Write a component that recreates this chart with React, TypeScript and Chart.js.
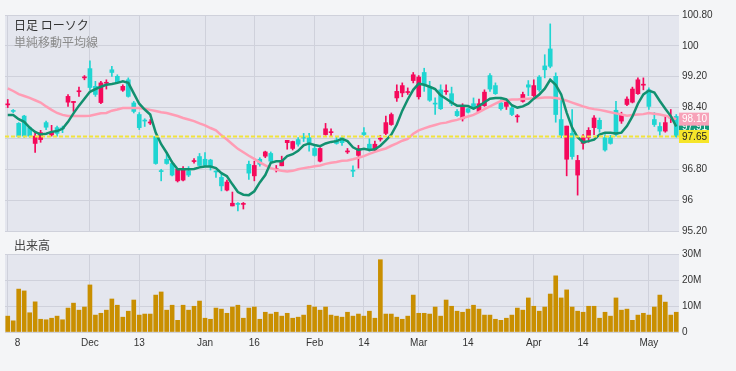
import React, { useEffect, useRef } from 'react';
import { Chart, registerables } from 'chart.js';

Chart.register(...registerables);

// ---- data ----
const opens = [98.49, 98.30, 97.65, 97.66, 97.66, 97.66, 97.75, 97.89, 97.76, 97.73,
  97.85, 98.69, 98.56, 98.83, 99.19, 98.92, 98.74, 99.04, 99.05, 99.31,
  99.05, 98.95, 98.69, 98.30, 97.88, 98.05, 98.02, 96.95, 96.74, 96.95,
  96.65, 96.80, 96.80, 96.65, 97.02, 96.90, 96.90, 96.89, 96.73, 96.37,
  96.47, 95.92, 95.89, 95.91, 96.70, 96.90, 96.93, 97.25, 97.01, 96.81,
  97.01, 97.55, 97.52, 97.45, 97.61, 97.49, 97.16, 97.34, 97.85, 97.77,
  97.47, 97.49, 97.27, 96.75, 97.34, 97.70, 97.32, 97.45, 97.60, 98.01,
  98.22, 98.82, 98.97, 98.81, 99.25, 99.19, 98.99, 98.59, 98.49, 98.37,
  98.83, 98.50, 98.19, 98.43, 98.28, 98.39, 98.50, 98.80, 98.88, 98.76,
  98.37, 98.54, 98.22, 98.18, 98.74, 98.93, 98.97, 98.86, 99.38, 99.47,
  98.22, 97.68, 97.92, 97.13, 97.03, 97.62, 97.81, 98.13, 97.85, 97.30,
  97.47, 97.70, 98.22, 98.62, 98.88, 99.12, 99.00, 98.43, 97.96, 97.79,
  98.01, 98.15, 97.65];
const highs = [98.61, 98.35, 98.01, 98.20, 97.91, 97.78, 97.81, 98.05, 97.94, 97.92,
  97.92, 98.74, 98.56, 98.93, 99.23, 99.61, 99.08, 99.08, 99.12, 99.47,
  99.25, 98.99, 99.17, 98.56, 98.27, 98.11, 98.09, 97.66, 96.80, 97.23,
  97.01, 96.82, 96.87, 96.87, 97.08, 97.21, 97.23, 97.06, 96.76, 96.67,
  96.52, 96.21, 95.94, 95.94, 97.01, 97.01, 97.10, 97.27, 97.25, 96.90,
  97.14, 97.55, 97.53, 97.62, 97.73, 97.73, 97.42, 97.36, 97.99, 97.85,
  97.64, 97.66, 97.34, 96.89, 97.42, 97.88, 97.59, 97.53, 97.68, 98.18,
  98.26, 98.99, 99.04, 98.91, 99.31, 99.23, 99.42, 99.08, 98.65, 98.99,
  98.99, 98.93, 98.35, 98.50, 98.39, 98.65, 98.62, 98.86, 99.28, 99.04,
  98.61, 98.61, 98.43, 98.22, 98.80, 99.10, 99.12, 99.23, 99.77, 100.57,
  99.30, 98.61, 97.92, 98.35, 97.16, 97.70, 97.88, 98.19, 98.13, 97.70,
  97.68, 98.56, 98.28, 98.68, 98.93, 99.17, 99.17, 98.91, 98.27, 98.01,
  98.17, 98.35, 98.22];
const lows = [98.40, 98.27, 97.63, 97.63, 97.63, 97.24, 97.50, 97.83, 97.66, 97.66,
  97.75, 98.43, 98.30, 98.69, 99.12, 98.86, 98.69, 98.50, 98.88, 99.21,
  99.04, 98.82, 98.67, 98.26, 97.83, 97.91, 97.96, 96.93, 96.50, 96.93,
  96.63, 96.47, 96.50, 96.61, 96.96, 96.88, 96.88, 96.78, 96.59, 96.24,
  96.24, 95.85, 95.72, 95.77, 96.54, 96.50, 96.88, 97.10, 96.97, 96.73,
  96.89, 97.32, 97.30, 97.40, 97.52, 97.27, 97.14, 96.99, 97.68, 97.66,
  97.45, 97.42, 97.21, 96.61, 96.83, 97.68, 97.27, 97.27, 97.53, 97.70,
  97.94, 98.56, 98.68, 98.74, 99.04, 98.62, 98.82, 98.56, 98.22, 98.35,
  98.74, 98.45, 98.17, 98.05, 98.26, 98.35, 98.28, 98.43, 98.82, 98.74,
  98.33, 98.35, 98.19, 98.02, 98.54, 98.71, 98.68, 98.82, 99.17, 99.43,
  98.02, 97.62, 96.63, 97.06, 96.13, 97.32, 97.50, 97.70, 97.76, 97.27,
  97.45, 97.66, 97.99, 98.45, 98.52, 98.74, 98.86, 98.35, 97.91, 97.68,
  97.76, 98.01, 97.63];
const closes = [98.47, 98.32, 97.99, 98.18, 97.88, 97.47, 97.57, 98.01, 97.69, 97.88,
  97.87, 98.54, 98.53, 98.81, 99.17, 99.41, 98.95, 98.53, 99.03, 99.38,
  99.21, 98.85, 99.12, 98.52, 98.22, 98.07, 98.00, 97.65, 96.76, 97.06,
  96.95, 96.50, 96.52, 96.76, 97.00, 97.13, 97.06, 97.04, 96.75, 96.59,
  96.26, 95.85, 95.91, 95.89, 96.93, 96.63, 97.06, 97.14, 97.21, 96.79,
  96.89, 97.49, 97.34, 97.57, 97.63, 97.62, 97.34, 97.01, 97.70, 97.75,
  97.56, 97.62, 97.25, 96.77, 97.16, 97.75, 97.45, 97.30, 97.58, 97.73,
  97.96, 98.65, 98.78, 98.79, 99.10, 98.68, 99.31, 98.93, 98.51, 98.86,
  98.81, 98.76, 98.30, 98.11, 98.37, 98.50, 98.30, 98.45, 99.23, 98.97,
  98.52, 98.43, 98.39, 98.16, 98.56, 98.99, 98.71, 99.19, 99.48, 99.92,
  99.21, 98.09, 97.06, 97.73, 96.65, 97.47, 97.62, 97.88, 98.07, 97.62,
  97.62, 98.33, 98.05, 98.48, 98.54, 98.76, 98.98, 98.86, 98.09, 97.91,
  97.79, 98.13, 98.17];
// volume, in millions
const volumes = [6.1, 4.3, 16.5, 15.8, 7.4, 11.6, 4.9, 4.7, 5.3, 6.1,
  4.7, 9.2, 11.1, 8.4, 9.6, 18.1, 6.5, 7.2, 8.4, 12.7,
  10.3, 5.7, 8.0, 12.3, 6.5, 6.9, 6.9, 14.2, 15.4, 8.4,
  10.3, 4.5, 10.3, 8.4, 9.9, 11.9, 5.3, 4.9, 9.2, 8.8,
  7.2, 9.6, 10.3, 5.3, 9.2, 9.6, 4.9, 7.6, 6.9, 7.6,
  6.1, 7.2, 5.3, 5.7, 6.5, 10.3, 9.6, 8.4, 9.6, 6.5,
  6.1, 5.7, 7.6, 6.1, 6.9, 6.1, 8.0, 5.3, 27.8, 6.9,
  6.9, 5.7, 4.9, 6.1, 14.2, 7.2, 7.2, 6.9, 9.6, 6.1,
  12.3, 9.9, 8.0, 7.6, 8.8, 10.3, 8.8, 6.5, 6.5, 4.9,
  4.5, 5.3, 6.5, 9.2, 8.4, 13.1, 9.9, 8.0, 9.6, 14.6,
  21.6, 13.1, 16.2, 9.6, 8.0, 7.6, 9.9, 9.9, 5.3, 7.6,
  6.1, 13.1, 8.4, 8.8, 4.5, 6.5, 7.2, 6.5, 9.6, 14.2,
  11.5, 6.5, 7.6];
const maLong = [98.90, 98.83, 98.75, 98.70, 98.65, 98.59, 98.53, 98.43, 98.34, 98.26,
  98.21, 98.18, 98.18, 98.18, 98.18, 98.19, 98.22, 98.25, 98.26, 98.32,
  98.35, 98.39, 98.39, 98.39, 98.39, 98.37, 98.34, 98.31, 98.28, 98.26,
  98.22, 98.18, 98.13, 98.09, 98.05, 97.99, 97.94, 97.87, 97.81, 97.68,
  97.57, 97.45, 97.33, 97.24, 97.15, 97.07, 96.98, 96.90, 96.83, 96.79,
  96.76, 96.74, 96.76, 96.80, 96.83, 96.85, 96.88, 96.90, 96.94, 96.97,
  96.99, 97.02, 97.03, 97.06, 97.10, 97.14, 97.20, 97.25, 97.30, 97.34,
  97.41, 97.47, 97.54, 97.59, 97.72, 97.81, 97.86, 97.91, 97.95, 97.99,
  98.01, 98.05, 98.08, 98.13, 98.17, 98.21, 98.28, 98.36, 98.43, 98.50,
  98.57, 98.59, 98.61, 98.61, 98.62, 98.63, 98.64, 98.65, 98.66, 98.66,
  98.65, 98.62, 98.58, 98.53, 98.48, 98.43, 98.39, 98.36, 98.34, 98.31,
  98.28, 98.25, 98.22, 98.19, 98.21, 98.22, 98.23, 98.26, 98.24, 98.22,
  98.19, 98.15, 98.10];
const maShort = [98.21, 98.21, 98.10, 98.03, 97.88, 97.77, 97.70, 97.72, 97.77, 97.79,
  97.85, 98.03, 98.25, 98.45, 98.63, 98.81, 98.88, 98.94, 98.99, 99.01,
  99.04, 99.08, 99.04, 98.77, 98.50, 98.35, 98.22, 97.75, 97.45, 97.23,
  96.98, 96.80, 96.80, 96.80, 96.81, 96.85, 96.87, 96.87, 96.83, 96.70,
  96.62, 96.41, 96.21, 96.14, 96.13, 96.23, 96.46, 96.65, 96.97, 97.01,
  97.01, 97.14, 97.19, 97.28, 97.42, 97.47, 97.43, 97.40, 97.47, 97.51,
  97.53, 97.59, 97.53, 97.37, 97.30, 97.33, 97.30, 97.32, 97.41, 97.55,
  97.70, 97.96, 98.32, 98.61, 98.86, 99.02, 98.99, 98.94, 98.88, 98.72,
  98.63, 98.53, 98.45, 98.45, 98.44, 98.37, 98.44, 98.54, 98.63, 98.65,
  98.65, 98.61, 98.46, 98.40, 98.43, 98.50, 98.63, 98.74, 98.89, 99.12,
  98.99, 98.74, 98.27, 97.88, 97.63, 97.50, 97.53, 97.57, 97.70, 97.75,
  97.75, 97.73, 97.75, 97.92, 98.17, 98.50, 98.74, 98.84, 98.79, 98.57,
  98.37, 98.18, 97.91];
const xTickIndex = [0, 15, 24, 36, 45, 56, 65, 75, 84, 96, 105, 117];
const xTickText = ['8', 'Dec', '13', 'Jan', '16', 'Feb', '14', 'Mar', '14', 'Apr', '14', 'May'];
const priceTicks = [95.2, 96, 96.8, 97.6, 98.4, 99.2, 100, 100.8];
const volumeTicks = [0, 10, 20, 30];
const refPrice = 97.65;

const categories = opens.map((_, i) => {
  const k = xTickIndex.indexOf(i);
  return k >= 0 ? xTickText[k] : '';
});

// ---- styles ----
const PAGE_BG = '#f4f5f7';
const PLOT_BG = '#e4e6ee';
const GRID = '#cfd1db';
const UP = '#1fd5d2';
const DOWN = '#f5095b';
const MA_SHORT = '#12906f';
const MA_LONG = '#ff9cb4';
const VOL = '#c98f00';
const REF = '#f1e33c';
const TXT = '#333333';
const FONT = '"Liberation Sans", Arial, sans-serif';
const CJK = '"Noto Sans CJK JP", "Noto Sans", sans-serif';

const candleColors = opens.map((o, i) => (closes[i] >= o ? UP : DOWN));
const fmtPrice = (v: number) => {
  const r = Math.round(v * 100) / 100;
  return Number.isInteger(r) ? String(r) : r.toFixed(2);
};
const gridX = (ctx: any) => (xTickIndex.includes(ctx.index) ? GRID : 'rgba(0,0,0,0)');

const plotBgPlugin = {
  id: 'plotBg',
  beforeDraw(chart: any) {
    const { ctx, chartArea: a } = chart;
    ctx.save();
    ctx.fillStyle = PLOT_BG;
    ctx.fillRect(a.left, a.top, a.right - a.left, a.bottom - a.top);
    ctx.restore();
  },
};

const priceOverlay = {
  id: 'priceOverlay',
  afterDatasetsDraw(chart: any) {
    const { ctx, chartArea: a } = chart;
    const y = chart.scales.y.getPixelForValue(refPrice);
    ctx.save();
    ctx.strokeStyle = REF;
    ctx.lineWidth = 2;
    ctx.setLineDash([4, 2]);
    ctx.beginPath();
    ctx.moveTo(a.left, y);
    ctx.lineTo(a.right, y);
    ctx.stroke();
    ctx.restore();
  },
  afterDraw(chart: any) {
    const { ctx, chartArea: a } = chart;
    const boxes = [
      { v: maShort[maShort.length - 1], bg: '#139a7a', fg: '#ffffff' },
      { v: maLong[maLong.length - 1], bg: '#f7a2b9', fg: '#ffffff' },
      { v: refPrice, bg: '#f6e52a', fg: '#222222' },
    ];
    ctx.save();
    ctx.font = `10px ${FONT}`;
    ctx.textBaseline = 'middle';
    ctx.textAlign = 'left';
    boxes.forEach((b) => {
      const y = chart.scales.y.getPixelForValue(b.v);
      ctx.fillStyle = b.bg;
      ctx.fillRect(a.right, y - 6.5, 30, 13);
      ctx.fillStyle = b.fg;
      ctx.fillText(fmtPrice(b.v), a.right + 3, y + 0.5);
    });
    ctx.restore();
  },
};

export default function App() {
  const topRef = useRef<HTMLCanvasElement>(null);
  const volRef = useRef<HTMLCanvasElement>(null);

  useEffect(() => {
    const hidden = [maShort[maShort.length - 1], maLong[maLong.length - 1], refPrice];
    const top = new Chart(topRef.current as HTMLCanvasElement, {
      type: 'bar',
      data: {
        labels: categories,
        datasets: [
          { type: 'line', label: 'MA short', data: maShort, borderColor: MA_SHORT, borderWidth: 2.5, pointRadius: 0, tension: 0, order: 0 } as any,
          { type: 'line', label: 'MA long', data: maLong, borderColor: MA_LONG, borderWidth: 2.5, pointRadius: 0, tension: 0, order: 0.5 } as any,
          { type: 'bar', label: 'body', data: opens.map((o, i) => [o, closes[i]]), backgroundColor: candleColors, barThickness: 4, grouped: false, minBarLength: 1, order: 1 } as any,
          { type: 'bar', label: 'wick', data: lows.map((l, i) => [l, highs[i]]), backgroundColor: candleColors, barThickness: 1, grouped: false, order: 2 } as any,
        ],
      },
      options: {
        animation: false,
        responsive: false,
        maintainAspectRatio: false,
        layout: { padding: { left: 25, top: 15, right: 0, bottom: 0 } },
        plugins: { legend: { display: false }, tooltip: { enabled: false } },
        scales: {
          x: {
            offset: true,
            grid: { offset: false, color: gridX, drawTicks: false, lineWidth: 1 },
            border: { display: false },
            ticks: { display: false },
            afterFit: (s: any) => { s.height = 8; },
          },
          y: {
            position: 'right',
            min: 95.2,
            max: 100.8,
            afterBuildTicks: (s: any) => { s.ticks = priceTicks.map((v) => ({ value: v })); },
            ticks: {
              padding: 3,
              color: TXT,
              font: { family: FONT, size: 10 },
              callback: (v: any) => (hidden.some((h) => Math.abs(h - Number(v)) < 0.2) ? '' : fmtPrice(Number(v))),
            },
            grid: { color: GRID, drawTicks: false },
            border: { display: false },
            afterFit: (s: any) => { s.width = 57; },
          },
        },
      } as any,
      plugins: [plotBgPlugin, priceOverlay],
    });

    const vol = new Chart(volRef.current as HTMLCanvasElement, {
      type: 'bar',
      data: {
        labels: categories,
        datasets: [{ label: '出来高', data: volumes, backgroundColor: VOL, barThickness: 4 }],
      },
      options: {
        animation: false,
        responsive: false,
        maintainAspectRatio: false,
        layout: { padding: { left: 25, top: 22, right: 0, bottom: 0 } },
        plugins: { legend: { display: false }, tooltip: { enabled: false } },
        scales: {
          x: {
            offset: true,
            grid: { offset: false, color: gridX, drawTicks: false },
            border: { display: false },
            ticks: {
              autoSkip: false,
              maxRotation: 0,
              minRotation: 0,
              padding: 5,
              color: TXT,
              font: { family: FONT, size: 10 },
              callback: (_v: any, i: number) => {
                const k = xTickIndex.indexOf(i);
                if (k < 0) return '';
                return i === 0 ? '       ' + xTickText[k] : xTickText[k];
              },
            },
            afterFit: (s: any) => { s.height = 39; },
          },
          y: {
            position: 'right',
            min: 0,
            max: 30,
            afterBuildTicks: (s: any) => { s.ticks = volumeTicks.map((v) => ({ value: v })); },
            ticks: {
              padding: 3,
              color: TXT,
              font: { family: FONT, size: 10 },
              callback: (v: any) => (Number(v) === 0 ? '0' : `${v}M`),
            },
            grid: { color: GRID, drawTicks: false },
            border: { display: false },
            afterFit: (s: any) => { s.width = 57; },
          },
        },
      } as any,
      plugins: [plotBgPlugin],
    });

    return () => {
      top.destroy();
      vol.destroy();
    };
  }, []);

  return (
    <div style={{ position: 'fixed', left: 0, top: 0, width: 736, height: 371, overflow: 'hidden', background: PAGE_BG }}>
      <canvas ref={topRef} width={756} height={240} style={{ position: 'absolute', left: -20, top: 0, width: 756, height: 240 }} />
      <canvas ref={volRef} width={756} height={139} style={{ position: 'absolute', left: -20, top: 232, width: 756, height: 139 }} />
      <div style={{ position: 'absolute', left: 14, top: 18, font: `12px ${CJK}`, lineHeight: '14px', color: '#333', whiteSpace: 'nowrap' }}>日足 ローソク</div>
      <div style={{ position: 'absolute', left: 14, top: 35, font: `12px ${CJK}`, lineHeight: '14px', color: '#8a8a8a', whiteSpace: 'nowrap' }}>単純移動平均線</div>
      <div style={{ position: 'absolute', left: 14, top: 238, font: `12px ${CJK}`, lineHeight: '14px', color: '#444', whiteSpace: 'nowrap' }}>出来高</div>
    </div>
  );
}
